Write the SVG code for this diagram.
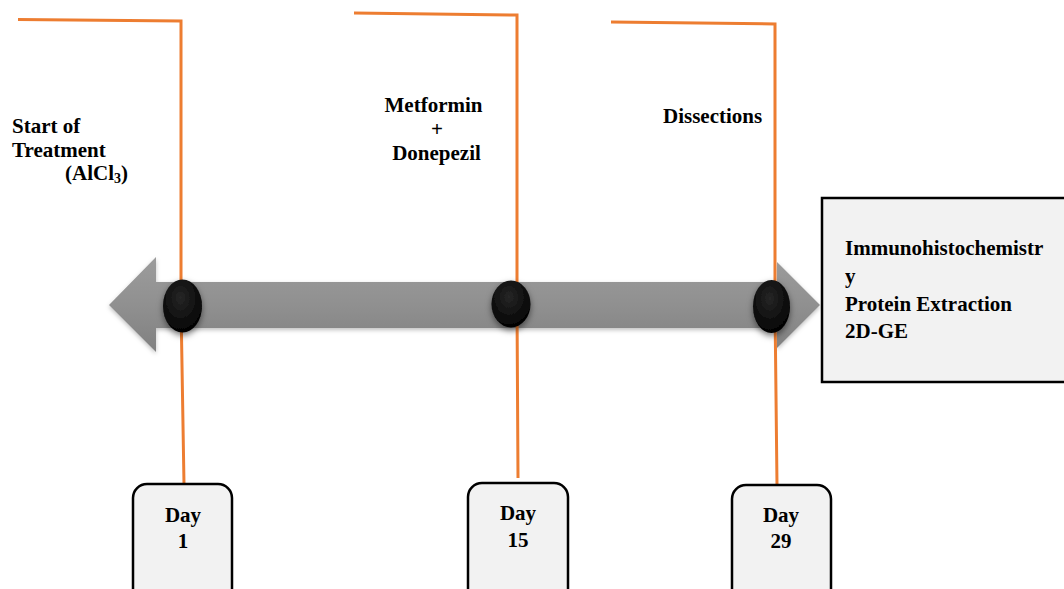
<svg xmlns="http://www.w3.org/2000/svg" width="1064" height="589" viewBox="0 0 1064 589">
  <defs>
    <linearGradient id="shaft" x1="0" y1="0" x2="0" y2="1">
      <stop offset="0" stop-color="#9c9c9c"/>
      <stop offset="0.5" stop-color="#909090"/>
      <stop offset="1" stop-color="#808080"/>
    </linearGradient>
    <radialGradient id="dot" cx="0.45" cy="0.35" r="0.7">
      <stop offset="0" stop-color="#262626"/>
      <stop offset="1" stop-color="#000000"/>
    </radialGradient>
    <filter id="sh" x="-50%" y="-50%" width="200%" height="200%">
      <feDropShadow dx="0" dy="3" stdDeviation="3" flood-color="#000" flood-opacity="0.5"/>
    </filter>
    <filter id="sh2" x="-10%" y="-30%" width="120%" height="160%">
      <feDropShadow dx="0" dy="2" stdDeviation="2" flood-color="#000" flood-opacity="0.25"/>
    </filter>
  </defs>
  <style>
    .t { font-family: "Liberation Serif", "Times New Roman", serif; font-weight: bold; font-size: 21px; fill: #000; }
    .ol { fill: none; stroke: #ED7D31; stroke-width: 3; }
    .day { fill: #f2f2f2; stroke: #000; stroke-width: 2.5; }
    .dot { fill: url(#dot); filter: url(#sh); }
  </style>
  <rect width="1064" height="589" fill="#fff"/>

  <g id="timeline-arrow">
    <polygon points="109,305 156,257 156,282 777,282 777,262 820,305 777,348 777,328 156,328 156,352" fill="url(#shaft)" filter="url(#sh2)"/>
  </g>

  <g id="connectors">
    <path class="ol" d="M18,19.5 L181,21 L181,306 L184,484"/>
    <path class="ol" d="M354,13 L517,15 L517,306 L518,478"/>
    <path class="ol" d="M611,22 L775,24 L775,306 L777,485"/>
  </g>

  <g id="dot1"><ellipse class="dot" cx="182.5" cy="306" rx="19.5" ry="26.5"/></g>
  <g id="dot15"><ellipse class="dot" cx="511" cy="304" rx="19.5" ry="23.5"/></g>
  <g id="dot29"><ellipse class="dot" cx="771.5" cy="306.5" rx="18.5" ry="26.5"/></g>

  <g id="label-start">
    <text class="t" x="12" y="133">Start of</text>
    <text class="t" x="12" y="157">Treatment</text>
    <text class="t" x="65" y="180">(AlCl<tspan font-size="14" dy="3">3</tspan><tspan dy="-3">)</tspan></text>
  </g>

  <g id="label-drugs">
    <text class="t" x="433.5" y="112" text-anchor="middle">Metformin</text>
    <text class="t" x="437" y="136" text-anchor="middle" font-weight="normal">+</text>
    <text class="t" x="436.5" y="160" text-anchor="middle">Donepezil</text>
  </g>

  <g id="label-dissections">
    <text class="t" x="663" y="123">Dissections</text>
  </g>

  <g id="analysis-box">
    <rect x="822" y="198" width="260" height="184" fill="#f2f2f2" stroke="#000" stroke-width="2.5"/>
    <text class="t" x="845" y="255">Immunohistochemistr</text>
    <text class="t" x="845" y="283">y</text>
    <text class="t" x="845" y="311">Protein Extraction</text>
    <text class="t" x="845" y="338">2D-GE</text>
  </g>

  <g id="day1">
    <rect class="day" x="133" y="484" width="99" height="125" rx="14"/>
    <text class="t" x="183" y="522" text-anchor="middle">Day</text>
    <text class="t" x="183" y="548" text-anchor="middle">1</text>
  </g>
  <g id="day15">
    <rect class="day" x="468" y="483" width="100" height="125" rx="14"/>
    <text class="t" x="518" y="520" text-anchor="middle">Day</text>
    <text class="t" x="518" y="547" text-anchor="middle">15</text>
  </g>
  <g id="day29">
    <rect class="day" x="732" y="485" width="99" height="125" rx="14"/>
    <text class="t" x="781" y="522" text-anchor="middle">Day</text>
    <text class="t" x="781" y="548" text-anchor="middle">29</text>
  </g>
</svg>
